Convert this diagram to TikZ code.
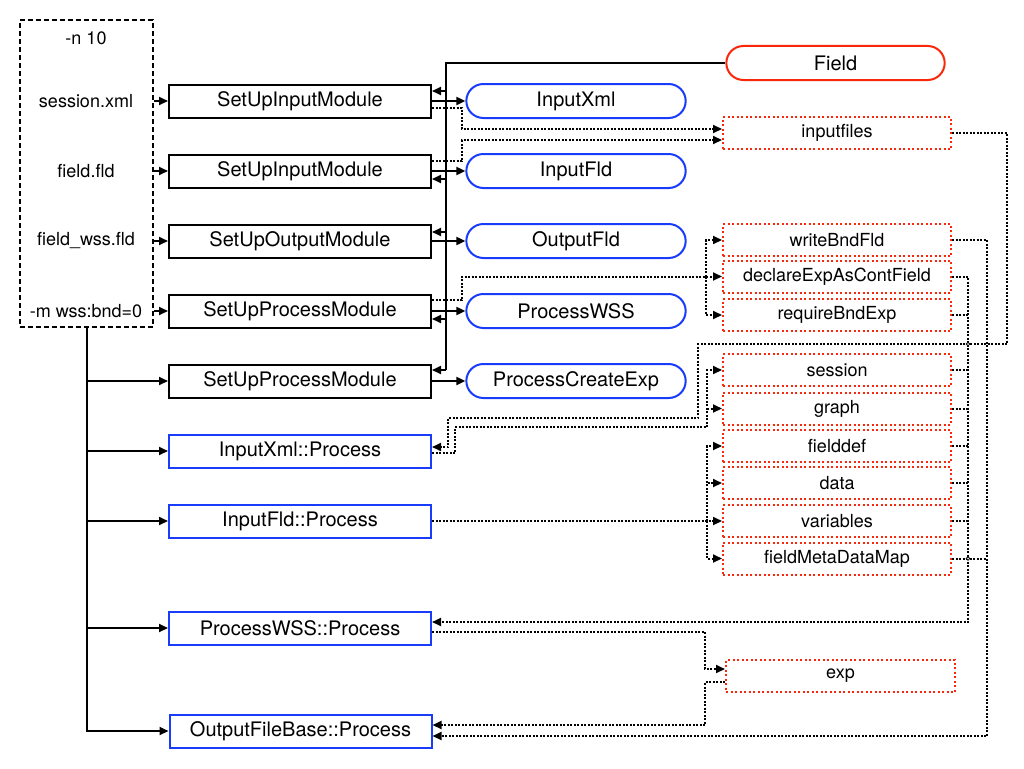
\documentclass[tikz,border=0pt]{standalone}
\usepackage{fontspec}
\setmainfont{TeX Gyre Heros}
\usetikzlibrary{arrows.meta,shapes.misc}
\definecolor{modblue}{RGB}{25,60,250}
\definecolor{datared}{RGB}{250,40,10}

\begin{document}
\begin{tikzpicture}[x=1pt,y=-1pt,
    setbox/.style={draw,line width=2pt,minimum width=262pt,minimum height=33pt,font=\fontsize{20}{23}\selectfont},
    procbox/.style={setbox,draw=modblue},
    modpill/.style={rounded rectangle,draw=modblue,line width=2pt,minimum width=226pt,minimum height=34pt,font=\fontsize{20}{23}\selectfont},
    databox/.style={draw=datared,line width=2pt,dash pattern=on 2pt off 2.5pt,minimum width=228pt,minimum height=32pt,font=\fontsize{18}{21}\selectfont},
    argtext/.style={font=\fontsize{18}{21}\selectfont},
    arr/.style={line width=2pt,-{Triangle[length=9pt,width=8pt]}},
    dotline/.style={line width=2pt,dash pattern=on 2pt off 1.5pt},
    dotarr/.style={dotline,-{Triangle[length=9pt,width=8pt]}}]
  \useasboundingbox (0,0) rectangle (1024,768);

  % command line arguments
  \node[draw,line width=2pt,dash pattern=on 5pt off 3pt,minimum width=133pt,minimum height=307pt] (args) at (86.5,173.5) {};
  \begin{scope}[every node/.style={argtext}]
    \node (an) at (86,38) {-n 10};
    \node (as) at (86,101) {session.xml};
    \node (af) at (86,171) {field.fld};
    \node (aw) at (86,241) {field\_wss.fld};
    \node (am) at (86,311) {-m wss:bnd=0};
  \end{scope}

  % set up calls
  \node[setbox] (su1) at (300,101) {SetUpInputModule};
  \node[setbox] (su2) at (300,171) {SetUpInputModule};
  \node[setbox] (su3) at (300,241) {SetUpOutputModule};
  \node[setbox] (su4) at (300,311) {SetUpProcessModule};
  \node[setbox] (su5) at (300,381) {SetUpProcessModule};

  % process calls
  \node[procbox] (px) at (300,451) {InputXml::Process};
  \node[procbox] (pf) at (300,521) {InputFld::Process};
  \node[procbox] (pw) at (300,628) {ProcessWSS::Process};
  \node[procbox] (po) at (300.5,731) {OutputFileBase::Process};

  % modules
  \node[modpill] (mx) at (576,101) {InputXml};
  \node[modpill] (mf) at (576,171) {InputFld};
  \node[modpill] (mo) at (576,241) {OutputFld};
  \node[modpill] (mw) at (576,311) {ProcessWSS};
  \node[modpill] (mc) at (576,381) {ProcessCreateExp};
  \node[modpill,draw=datared,minimum width=225pt] (fld) at (835.5,63) {Field};

  % data
  \begin{scope}[every node/.style={databox}]
    \node (files) at (837,133) {inputfiles};
    \node (wbf) at (837,240) {writeBndFld};
    \node (decl) at (837,276.5) {declareExpAsContField};
    \node (rbe) at (837,315) {requireBndExp};
    \node (sess) at (837,370) {session};
    \node (graph) at (837,408.5) {graph};
    \node (fdef) at (837,446) {fielddef};
    \node (data) at (837,483) {data};
    \node (var) at (837,521) {variables};
    \node (fmdm) at (837,558.5) {fieldMetaDataMap};
    \node[minimum width=229pt] (exp) at (840.5,676) {exp};
  \end{scope}

  % arguments into set up
  \foreach \a/\s in {as/su1,af/su2,aw/su3,am/su4}
    \draw[arr] (args.east |- \s.west) -- (\s.west);
  \draw[arr] (args.south) |- (po.west);
  \foreach \s in {su5,px,pf,pw}
    \draw[arr] (args.south |- \s.west) -- (\s.west);

  % field object
  \coordinate (fbus) at (446,370);
  \draw[line width=2pt] (fld.west) -| (fbus);
  \foreach \s/\d in {su1/10,su2/-8,su3/9,su4/-8,su5/11}
    \draw[arr] ([yshift=\d pt,xshift=14pt]\s.east) -- ([yshift=\d pt]\s.east);
  \foreach \s/\m in {su1/mx,su2/mf,su3/mo,su4/mw,su5/mc}
    \draw[arr] (\s) -- (\m);

  % set up writes
  \draw[dotarr] ([yshift=-7pt]su1.east) -| (462,129) -- ([yshift=4pt]files.west);
  \draw[dotarr] ([yshift=10pt]su2.east) -| (462,140) -- ([yshift=-7pt]files.west);
  \draw[dotarr] ([yshift=11pt]su4.east) -| (462,276.5) -- (decl.west);
  \coordinate (wssbr) at (706,276.5);
  \draw[dotarr] (wssbr) |- (wbf.west);
  \draw[dotarr] (wssbr) |- (rbe.west);

  % process reads and writes
  \draw[dotarr] (files.east) -| (1007,344) -| (698,418) -| (448,447) -- ([yshift=4pt]px.east);
  \draw[dotarr] ([yshift=-2pt]px.east) -| (455,427) -| (707,370) -- (sess.west);
  \draw[dotarr] (707,408.5) -- (graph.west);
  \draw[dotarr] (pf.east) -- (var.west);
  \coordinate (fldbr) at (707,521);
  \foreach \d in {fdef,data,fmdm}
    \draw[dotarr] (fldbr) |- (\d.west);

  \coordinate (wsscol) at (968,0);
  \draw[dotarr] (decl.east) -| (968,622) -- ([yshift=6pt]pw.east);
  \foreach \d in {rbe,sess,graph,fdef,data,var}
    \draw[dotline] (\d.east) -- (\d.east -| wsscol);
  \draw[dotarr] (wbf.east) -| (987,736) -- ([yshift=-5pt]po.east);
  \draw[dotline] (fmdm.east) -- (987,558.5);
  \draw[line width=0.8pt,fill=white] (968,344) circle[radius=1.8pt];
  \draw[line width=0.8pt,fill=white] (968,558.5) circle[radius=1.8pt];

  \draw[dotarr] ([yshift=-4pt]pw.east) -| (705,669) -- ([yshift=7pt]exp.west);
  \draw[dotarr] ([yshift=-6pt]exp.west) -| (705,725) -- ([yshift=6pt]po.east);
\end{tikzpicture}
\end{document}
